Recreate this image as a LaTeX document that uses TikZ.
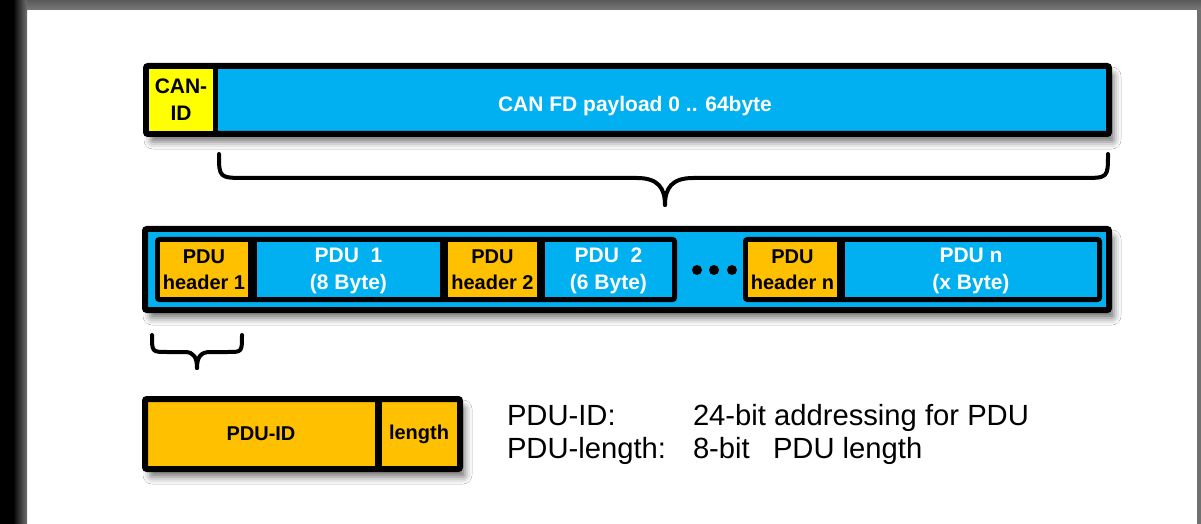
\documentclass[tikz,border=0pt]{standalone}
\usepackage{fontspec}
\setmainfont{Liberation Sans}
\usetikzlibrary{shadows.blur}
\definecolor{canblue}{HTML}{00B0F0}
\definecolor{canyellow}{HTML}{FFFF00}
\definecolor{pduorange}{HTML}{FFC000}
\definecolor{barGrey}{RGB}{112,112,112}
\begin{document}
\begin{tikzpicture}[x=0.5pt,y=-0.5pt,
  shd/.style={blur shadow={shadow xshift=2.5pt, shadow yshift=-4pt, shadow blur radius=3.5pt, shadow opacity=55}},
  outerframe/.style={rectangle, draw=black, line width=3pt, rounded corners=1pt, inner sep=0, outer sep=0},
  innergroup/.style={rectangle, draw=black, line width=2.5pt, rounded corners=1pt, fill=canblue, inner sep=0, outer sep=0},
  cell/.style={rectangle, draw=none, inner sep=0, outer sep=0, align=center},
  sep/.style={rectangle, fill=black, draw=none, inner sep=0, outer sep=0},
  lblbig/.style={font=\bfseries\fontsize{10.5}{13.5}\selectfont},
  lblsmall/.style={font=\bfseries\fontsize{10}{13.2}\selectfont},
  legend/.style={inner sep=0, outer sep=0, anchor=base west, font=\fontsize{14.6}{16.5}\selectfont},
  bracestroke/.style={draw=black, line width=2pt, line cap=round, line join=round},
  dot/.style={circle, fill=black, inner sep=0, minimum size=5pt}
]
\useasboundingbox (0,0) rectangle (1201,524);
% page background and frame
\fill[white] (0,0) rectangle (1201,524);
\fill[black] (0,0) rectangle (13,524);
\shade[left color=black, right color=barGrey] (13,0) rectangle (27,524);
\shade[top color={rgb,255:red,90;green,90;blue,90}, bottom color={rgb,255:red,120;green,120;blue,120}] (27,0) rectangle (1201,10);
\fill[barGrey] (1197,10) rectangle (1201,524);

% ---- CAN FD frame ----
\node[outerframe, fill=canblue, shd, minimum width=481.5pt, minimum height=34pt] (canframe) at (627.5,100) {};
\node[cell, fill=canyellow, minimum width=32pt, minimum height=31pt, lblbig] (canid) at (181,100) {CAN-\\ID};
\node[sep, minimum width=2.5pt, minimum height=31pt] (cansep) at (215.5,100) {};
\node[cell, lblbig, text=white, anchor=base] (payload) at (635,112) {CAN FD payload 0 .. 64byte};

% ---- big brace ----
\coordinate (bA) at (219,154);
\coordinate (bB) at (1108,154);
\coordinate (bT) at (665,205);
\draw[bracestroke] (bA) .. controls (219,178) and (219,178) .. (247,178) -- (637,178)
   .. controls (658,178) and (665,188) .. (bT);
\draw[bracestroke] (bB) .. controls (1108,178) and (1108,178) .. (1082,178) -- (693,178)
   .. controls (672,178) and (665,188) .. (bT);

% ---- PDU frame ----
\node[outerframe, fill=canblue, shd, minimum width=482pt, minimum height=40.5pt] (pduframe) at (627,269.5) {};
\node[innergroup, minimum width=258.5pt, minimum height=30pt] (grpone) at (416,269.5) {};
\node[innergroup, minimum width=177pt, minimum height=30pt] (grptwo) at (922.5,269.5) {};

\node[cell, fill=pduorange, minimum width=44pt, minimum height=27.5pt, lblsmall] (hdrone) at (204,269.5) {PDU\\header 1};
\node[sep, minimum width=4.5pt, minimum height=27.5pt] (sepa) at (252.5,269.5) {};
\node[cell, lblbig, text=white] (pduone) at (348.5,270.5) {PDU\ \ 1\\(8 Byte)};
\node[sep, minimum width=4pt, minimum height=27.5pt] (sepb) at (444,269.5) {};
\node[cell, fill=pduorange, minimum width=44.5pt, minimum height=27.5pt, lblsmall] (hdrtwo) at (492.5,269.5) {PDU\\header 2};
\node[sep, minimum width=4pt, minimum height=27.5pt] (sepc) at (541,269.5) {};
\node[cell, lblbig, text=white] (pdutwo) at (608.5,270.5) {PDU\ \ 2\\(6 Byte)};

\node[dot] (dota) at (697,270) {};
\node[dot] (dotb) at (714,270) {};
\node[dot] (dotc) at (732,270) {};

\node[cell, fill=pduorange, minimum width=44.5pt, minimum height=27.5pt, lblsmall] (hdrn) at (792.5,269.5) {PDU\\header n};
\node[sep, minimum width=4pt, minimum height=27.5pt] (sepd) at (841,269.5) {};
\node[cell, lblbig, text=white] (pdun) at (971,270.5) {PDU n\\(x Byte)};

% ---- small brace ----
\coordinate (sA) at (152,335);
\coordinate (sB) at (242,335);
\coordinate (sT) at (197,368);
\draw[bracestroke] (sA) .. controls (152,352) and (152,352) .. (167,352) -- (185,352)
   .. controls (194,352) and (197,358) .. (sT);
\draw[bracestroke] (sB) .. controls (242,352) and (242,352) .. (228,352) -- (210,352)
   .. controls (200,352) and (197,358) .. (sT);

% ---- PDU header detail ----
\node[outerframe, fill=pduorange, shd, minimum width=157.5pt, minimum height=35pt] (pduhdr) at (302.5,434) {};
\node[sep, minimum width=3.5pt, minimum height=32pt] (hdrsep) at (378.5,434) {};
\node[cell, lblsmall] (pduid) at (261,434) {PDU-ID};
\node[cell, lblsmall] (pdulen) at (419,434) {length};

% ---- legend ----
\node[legend] (lgA) at (507,425) {PDU-ID:};
\node[legend] (lgB) at (693,425) {24-bit addressing for PDU};
\node[legend] (lgC) at (507,458) {PDU-length:};
\node[legend] (lgD) at (693,458) {8-bit};
\node[legend] (lgE) at (773,458) {PDU length};
\end{tikzpicture}
\end{document}
